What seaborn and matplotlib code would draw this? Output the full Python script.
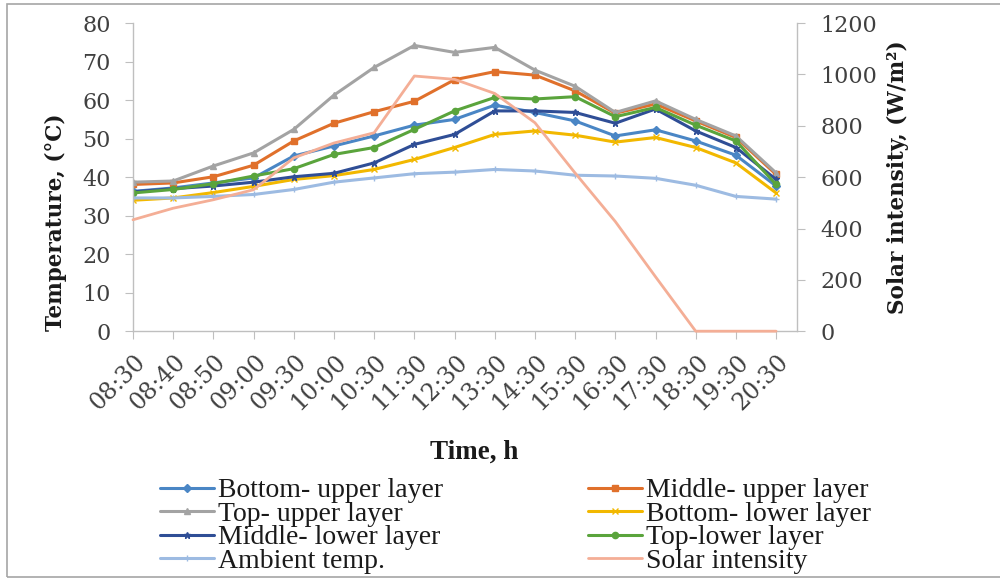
import numpy as np
import pandas as pd
import matplotlib
matplotlib.use("Agg")
import matplotlib.pyplot as plt
import matplotlib.transforms as mtransforms
import seaborn as sns
from matplotlib.patches import Rectangle

# Measurement times (category axis)
times = ["08:30", "08:40", "08:50", "09:00", "09:30", "10:00", "10:30", "11:30",
         "12:30", "13:30", "14:30", "15:30", "16:30", "17:30", "18:30", "19:30", "20:30"]

# Temperatures, °C
bottom_upper = [36.3, 37.2, 38.5, 39.8, 45.5, 48.1, 50.7, 53.5, 55.0, 58.7, 56.8, 54.6, 50.7, 52.3, 49.4, 45.7, 37.7]
middle_upper = [38.1, 38.5, 40.1, 43.1, 49.4, 54.0, 57.0, 59.7, 65.3, 67.4, 66.5, 62.4, 56.6, 59.0, 54.6, 50.3, 40.7]
top_upper = [38.7, 39.0, 42.9, 46.3, 52.4, 61.3, 68.5, 74.2, 72.4, 73.7, 67.8, 63.6, 56.8, 59.8, 55.0, 50.7, 41.1]
bottom_lower = [34.0, 34.6, 36.0, 37.6, 39.4, 40.4, 42.0, 44.6, 47.7, 51.1, 52.0, 50.9, 49.1, 50.3, 47.7, 43.7, 35.9]
middle_lower = [36.2, 37.0, 37.7, 38.7, 40.1, 41.0, 43.7, 48.5, 51.1, 57.2, 57.2, 56.8, 54.0, 57.7, 52.0, 47.7, 39.4]
top_lower = [35.9, 36.8, 38.3, 40.3, 42.2, 45.9, 47.7, 52.4, 57.2, 60.7, 60.3, 60.9, 55.7, 58.1, 53.5, 49.4, 38.1]
ambient = [34.6, 34.6, 35.0, 35.5, 36.8, 38.7, 39.8, 40.9, 41.3, 42.0, 41.6, 40.5, 40.3, 39.7, 37.9, 35.0, 34.3]

# Solar intensity, W/m²
solar = [434, 479, 512, 551, 675, 733, 773, 994, 981, 926, 812, 616, 427, 212, 0, 0, 0]

temp_labels = ["Bottom- upper layer", "Middle- upper layer", "Top- upper layer",
               "Bottom- lower layer", "Middle- lower layer", "Top-lower layer", "Ambient temp."]
temp_series = [bottom_upper, middle_upper, top_upper, bottom_lower, middle_lower, top_lower, ambient]
temp_colors = ["#4A86C5", "#E0702B", "#A3A3A3", "#F2B800", "#2F4E96", "#5AA43C", "#9DBBE2"]
temp_markers = ["D", "s", "^", "x", "*", "o", "+"]
solar_color = "#F4AE96"

sns.set_style("white")
plt.rcParams["font.family"] = ["DejaVu Serif"]

fig = plt.figure(figsize=(10, 5.78), dpi=100)
ax = fig.add_axes([0.133, 0.427, 0.664, 0.533])
ax2 = ax.twinx()

handles = {}
for lab, vals, col, mk in zip(temp_labels, temp_series, temp_colors, temp_markers):
    sns.lineplot(x=times, y=vals, ax=ax, color=col, marker=mk, markersize=4.5,
                 markeredgecolor=col, markeredgewidth=1.0, linewidth=2.2,
                 sort=False, legend=False)
    handles[lab] = ax.lines[-1]

sns.lineplot(x=times, y=solar, ax=ax2, color=solar_color, linewidth=2.0,
             sort=False, legend=False)
handles["Solar intensity"] = ax2.lines[-1]
ax2.lines[-1].set_clip_on(False)

ax.set_xlim(0, 16.52)
ax.set_ylim(0, 80)
ax.set_yticks(range(0, 81, 10))
ax2.set_ylim(0, 1200)
ax2.set_yticks(range(0, 1201, 200))

axis_gray = "#BFBFBF"
for a in (ax, ax2):
    for s in a.spines.values():
        s.set_visible(False)
ax.spines["left"].set_visible(True)
ax.spines["bottom"].set_visible(True)
ax2.spines["right"].set_visible(True)
for s in (ax.spines["left"], ax.spines["bottom"], ax2.spines["right"]):
    s.set_color(axis_gray)
    s.set_linewidth(1.0)

ax.tick_params(axis="y", which="both", left=True, length=6, color=axis_gray,
               labelsize=16, labelcolor="#404040", pad=10)
ax.tick_params(axis="x", which="both", bottom=True, length=6, color=axis_gray,
               labelsize=17, labelcolor="#404040", pad=4)
ax2.tick_params(axis="y", right=True, length=6, color=axis_gray,
                labelsize=16, labelcolor="#404040", pad=11)

ax.set_xticks(range(len(times)))
ax.set_xticklabels(times, rotation=45, ha="right", va="center", rotation_mode="anchor")
offset = mtransforms.ScaledTranslation(9 / 100, -13 / 100, fig.dpi_scale_trans)
for lbl in ax.get_xticklabels():
    lbl.set_transform(lbl.get_transform() + offset)

ax.set_ylabel("Temperature, (°C)", fontsize=15.5, fontweight="bold", color="#1a1a1a")
ax.yaxis.set_label_coords(-0.100, 0.354)
ax2.set_ylabel("Solar intensity, (W/m²)", fontsize=15.5, fontweight="bold", color="#1a1a1a")
ax2.yaxis.set_label_coords(1.135, 0.5)
ax.set_xlabel("Time, h", fontsize=19.5, fontweight="bold", family="Liberation Serif", color="#1a1a1a")
ax.xaxis.set_label_coords(0.514, -0.352)

order = ["Bottom- upper layer", "Top- upper layer", "Middle- lower layer", "Ambient temp.",
         "Middle- upper layer", "Bottom- lower layer", "Top-lower layer", "Solar intensity"]
leg = fig.legend([handles[k] for k in order], order, loc="upper left",
                 bbox_to_anchor=(0.160, 1 - 478 / 578), ncol=2, frameon=False,
                 prop={"family": "Liberation Serif", "size": 20}, handlelength=1.95,
                 handletextpad=0.15, columnspacing=5.2, labelspacing=-0.07,
                 borderpad=0, borderaxespad=0)
for t in leg.get_texts():
    t.set_color("#1a1a1a")

fig.patches.append(Rectangle((0.007, 0.002), 1.2, 0.991, transform=fig.transFigure,
                             fill=False, edgecolor="#A6A6A6", linewidth=1.2))

fig.savefig("out.png", dpi=100)
